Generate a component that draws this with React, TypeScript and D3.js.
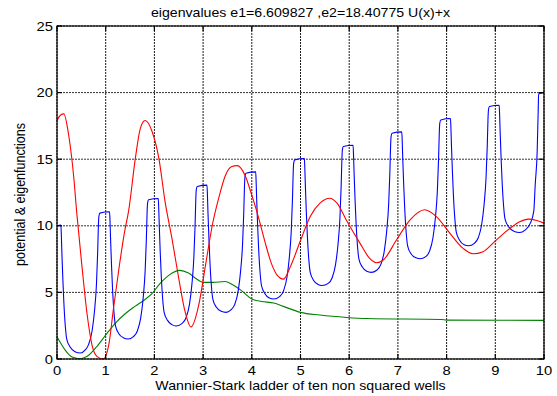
import React, { useRef, useEffect } from 'react';
import * as d3 from 'd3';

const titleText = 'eigenvalues e1=6.609827 ,e2=18.40775 U(x)+x';
const xLabelText = 'Wannier-Stark ladder of ten non squared wells';
const yLabelText = 'potential & eigenfunctions';

const xTicks = [0, 1, 2, 3, 4, 5, 6, 7, 8, 9, 10];
const yTicks = [0, 5, 10, 15, 20, 25];

// U(x)+x
const potential: [number, number][] = [
  [0, 10.0], [0.08, 10.05],
  [0.09, 9.2], [0.10, 8.0], [0.12, 6.0], [0.14, 4.3], [0.17, 2.5], [0.20, 1.5], [0.27, 0.9], [0.37, 0.55], [0.48, 0.45], [0.58, 0.68], [0.65, 1.1], [0.72, 2.1], [0.77, 3.6], [0.81, 5.6], [0.835, 8.0], [0.85, 10.0], [0.86, 10.7], [0.88, 10.95], [1.08, 11.05],
  [1.09, 10.2], [1.10, 9.0], [1.12, 7.0], [1.14, 5.3], [1.17, 3.5], [1.20, 2.5], [1.27, 1.9], [1.37, 1.58], [1.46, 1.5], [1.57, 1.68], [1.65, 2.1], [1.72, 3.1], [1.77, 4.6], [1.81, 6.6], [1.835, 9.0], [1.85, 11.0], [1.86, 11.7], [1.88, 11.95], [2.08, 12.05],
  [2.09, 11.2], [2.10, 10.0], [2.12, 8.0], [2.14, 6.3], [2.17, 4.5], [2.20, 3.5], [2.27, 2.9], [2.36, 2.58], [2.44, 2.48], [2.57, 2.68], [2.65, 3.1], [2.72, 4.1], [2.77, 5.6], [2.81, 7.6], [2.835, 10.0], [2.85, 12.0], [2.86, 12.7], [2.88, 12.95], [3.08, 13.05],
  [3.09, 12.2], [3.10, 11.0], [3.12, 9.0], [3.14, 7.3], [3.17, 5.5], [3.20, 4.5], [3.27, 3.9], [3.37, 3.58], [3.47, 3.5], [3.57, 3.68], [3.65, 4.1], [3.72, 5.1], [3.77, 6.6], [3.81, 8.6], [3.835, 11.0], [3.85, 13.0], [3.86, 13.7], [3.88, 13.95], [4.08, 14.05],
  [4.09, 13.2], [4.10, 12.0], [4.12, 10.0], [4.14, 8.3], [4.17, 6.5], [4.20, 5.5], [4.27, 4.9], [4.36, 4.58], [4.45, 4.5], [4.57, 4.68], [4.65, 5.1], [4.72, 6.1], [4.77, 7.6], [4.81, 9.6], [4.835, 12.0], [4.85, 14.0], [4.86, 14.7], [4.88, 14.95], [5.08, 15.05],
  [5.09, 14.2], [5.10, 13.0], [5.12, 11.0], [5.14, 9.3], [5.17, 7.5], [5.20, 6.5], [5.27, 5.9], [5.36, 5.6], [5.44, 5.52], [5.57, 5.68], [5.65, 6.1], [5.72, 7.1], [5.77, 8.6], [5.81, 10.6], [5.835, 13.0], [5.85, 15.0], [5.86, 15.7], [5.88, 15.95], [6.08, 16.05],
  [6.09, 15.2], [6.10, 14.0], [6.12, 12.0], [6.14, 10.3], [6.17, 8.5], [6.20, 7.5], [6.27, 6.9], [6.36, 6.58], [6.45, 6.5], [6.57, 6.68], [6.65, 7.1], [6.72, 8.1], [6.77, 9.6], [6.81, 11.6], [6.835, 14.0], [6.85, 16.0], [6.86, 16.7], [6.88, 16.95], [7.08, 17.05],
  [7.09, 16.2], [7.10, 15.0], [7.12, 13.0], [7.14, 11.3], [7.17, 9.5], [7.20, 8.5], [7.27, 7.9], [7.37, 7.6], [7.47, 7.53], [7.58, 7.7], [7.65, 8.1], [7.72, 9.1], [7.77, 10.6], [7.81, 12.6], [7.835, 15.0], [7.85, 17.0], [7.86, 17.7], [7.88, 17.95], [8.08, 18.05],
  [8.09, 17.2], [8.10, 16.0], [8.12, 14.0], [8.14, 12.3], [8.17, 10.5], [8.20, 9.5], [8.27, 8.9], [8.36, 8.58], [8.45, 8.5], [8.57, 8.68], [8.65, 9.1], [8.72, 10.1], [8.77, 11.6], [8.81, 13.6], [8.835, 16.0], [8.85, 18.0], [8.86, 18.7], [8.88, 18.95], [9.08, 19.05],
  [9.09, 18.2], [9.10, 17.0], [9.12, 15.0], [9.14, 13.3], [9.17, 11.5], [9.20, 10.5], [9.28, 9.9], [9.39, 9.58], [9.50, 9.5], [9.61, 9.68], [9.72, 10.2], [9.79, 11.1], [9.82, 13.1], [9.86, 15.6], [9.88, 18.5], [9.89, 19.9], [10.0, 20.0],
];

// first eigenfunction (red)
const psi1: [number, number][] = [
  [0, 17.9], [0.07, 18.3], [0.14, 18.4], [0.24, 16.8], [0.34, 13.8], [0.41, 10.8], [0.51, 7.05], [0.62, 3.3], [0.72, 1.03], [0.82, 0.2], [0.95, 0.0],
  [1.06, 1.0], [1.16, 3.8], [1.28, 7.0], [1.39, 9.6], [1.47, 11.1], [1.61, 15.1], [1.71, 17.3], [1.81, 17.9], [1.95, 17.1],
  [2.09, 15.1], [2.22, 11.8], [2.36, 9.06], [2.5, 6.05], [2.63, 3.55], [2.75, 2.4], [2.91, 4.04],
  [3.05, 7.05], [3.19, 10.06], [3.32, 12.07], [3.46, 13.8], [3.59, 14.45], [3.7, 14.52], [3.86, 13.8],
  [4.0, 12.3], [4.14, 10.6], [4.27, 8.8], [4.4, 7.2], [4.52, 6.3], [4.65, 6.0], [4.8, 7.0],
  [5.0, 8.9], [5.2, 10.7], [5.4, 11.7], [5.6, 12.07], [5.75, 11.7], [5.94, 10.44],
  [6.22, 8.7], [6.42, 7.55], [6.56, 7.23], [6.7, 7.43], [6.97, 8.93],
  [7.25, 10.44], [7.55, 11.2], [7.79, 10.69], [8.07, 9.43], [8.34, 8.3], [8.54, 7.9], [8.75, 8.06],
  [9.02, 8.93], [9.3, 9.8], [9.5, 10.3], [9.68, 10.5], [9.85, 10.4], [10.0, 10.2],
];

// second curve (green)
const psi2: [number, number][] = [
  [0, 1.67], [0.17, 0.66], [0.31, 0.15], [0.48, 0.02], [0.62, 0.2], [0.81, 0.9],
  [1.0, 1.8], [1.2, 2.7], [1.4, 3.4], [1.6, 3.95], [1.8, 4.45], [1.95, 4.9],
  [2.1, 5.6], [2.3, 6.3], [2.52, 6.65], [2.7, 6.45], [2.85, 6.05],
  [3.0, 5.75], [3.2, 5.75], [3.45, 5.82], [3.6, 5.6], [3.8, 5.1],
  [4.0, 4.5], [4.2, 4.32], [4.45, 4.2], [4.65, 3.95], [5.0, 3.5], [5.4, 3.3],
  [5.95, 3.12], [6.36, 3.04], [7.9, 2.97], [8.0, 2.92], [10.0, 2.9],
];

const W = 557;
const H = 396;
const margin = { left: 57, right: 13, top: 26, bottom: 37 };
const FONT = '"Liberation Sans", Arial, sans-serif';
const SX = 1.18;

const App = () => {
  const svgRef = useRef<SVGSVGElement>(null);

  useEffect(() => {
    if (!svgRef.current) return;
    const svg = d3.select(svgRef.current);
    svg.selectAll('*').remove();

    const x = d3.scaleLinear().domain([0, 10]).range([margin.left, W - margin.right]);
    const y = d3.scaleLinear().domain([0, 25]).range([H - margin.bottom, margin.top]);
    const [x0, x1] = x.range();
    const [y0, y1] = y.range();

    svg.append('rect').attr('width', W).attr('height', H).attr('fill', '#fff');

    // grid
    svg.append('g')
      .selectAll('line')
      .data(xTicks)
      .join('line')
        .attr('x1', (d) => x(d)).attr('x2', (d) => x(d))
        .attr('y1', y0).attr('y2', y1)
        .attr('stroke', '#1a1a1a')
        .attr('stroke-width', 1)
        .attr('stroke-dasharray', '2 1');
    svg.append('g')
      .selectAll('line')
      .data(yTicks)
      .join('line')
        .attr('x1', x0).attr('x2', x1)
        .attr('y1', (d) => y(d)).attr('y2', (d) => y(d))
        .attr('stroke', '#333')
        .attr('stroke-width', 1)
        .attr('stroke-dasharray', '2 1');

    // curves
    const line = d3.line<[number, number]>()
      .x((d) => x(d[0]))
      .y((d) => y(d[1]))
      .curve(d3.curveMonotoneX);
    const curves: [[number, number][], string][] = [[psi2, '#008000'], [potential, '#0000ff'], [psi1, '#ff0000']];
    curves.forEach(([data, color]) => {
      svg.append('path')
        .datum(data)
        .attr('d', line)
        .attr('fill', 'none')
        .attr('stroke', color)
        .attr('stroke-width', 1.1)
        .attr('stroke-linejoin', 'round');
    });

    // box + inward ticks
    svg.append('rect')
      .attr('x', x0).attr('y', y1)
      .attr('width', x1 - x0).attr('height', y0 - y1)
      .attr('fill', 'none')
      .attr('stroke', '#000')
      .attr('stroke-width', 1.2);
    const tk = 5;
    const ticks = svg.append('g').attr('stroke', '#000').attr('stroke-width', 1.2);
    xTicks.forEach((d) => {
      ticks.append('line').attr('x1', x(d)).attr('x2', x(d)).attr('y1', y0).attr('y2', y0 - tk);
      ticks.append('line').attr('x1', x(d)).attr('x2', x(d)).attr('y1', y1).attr('y2', y1 + tk);
    });
    yTicks.forEach((d) => {
      ticks.append('line').attr('x1', x0).attr('x2', x0 + tk).attr('y1', y(d)).attr('y2', y(d));
      ticks.append('line').attr('x1', x1).attr('x2', x1 - tk).attr('y1', y(d)).attr('y2', y(d));
    });

    const label = (tx: number, ty: number, str: string, anchor: string, size: number, rot = 0) => {
      const g = svg.append('g')
        .attr('transform', rot ? `translate(${tx},${ty}) scale(${SX},1) rotate(${rot})` : `translate(${tx},${ty}) scale(${SX},1)`);
      g.append('text')
        .attr('text-anchor', anchor)
        .style('font-family', FONT)
        .style('font-size', `${size}px`)
        .attr('fill', '#000')
        .text(str);
    };

    xTicks.forEach((d) => label(x(d), y0 + 16, String(d), 'middle', 12.5));
    yTicks.forEach((d) => label(x0 - 4, y(d) + 4.5, String(d), 'end', 12.5));

    label((x0 + x1) / 2, 17, titleText, 'middle', 12);
    label((x0 + x1) / 2, 390, xLabelText, 'middle', 12);
    label(25, (y0 + y1) / 2 + 2, yLabelText, 'middle', 12.5, -90);
  }, []);

  return (
    <svg
      ref={svgRef}
      width={W}
      height={H}
      style={{ position: 'absolute', left: 0, top: 0 }}
    />
  );
};

export default App;
